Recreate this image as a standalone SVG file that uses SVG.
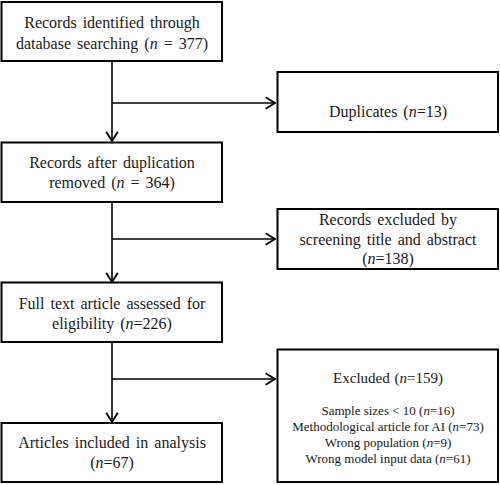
<svg xmlns="http://www.w3.org/2000/svg" width="500" height="485" viewBox="0 0 500 485">
<defs>
<marker id="arr" markerUnits="userSpaceOnUse" markerWidth="14" markerHeight="14" refX="10" refY="6" orient="auto" viewBox="0 0 12 12">
<path d="M2,1 L10,6 L2,11" fill="none" stroke="#000" stroke-width="1.6"/>
</marker>
<style>
.box{fill:#fff;stroke:#000;stroke-width:2}
.t{font-family:"Liberation Serif","Times New Roman",serif;font-size:16px;fill:#1a1a1a;text-anchor:middle;word-spacing:2px}
.s{font-family:"Liberation Serif","Times New Roman",serif;font-size:13px;fill:#1a1a1a;text-anchor:middle}
.c{fill:none;stroke:#000;stroke-width:1.6}
</style>
</defs>
<rect width="500" height="485" fill="#fff"/>
<g id="connectors">
<line class="c" x1="112" y1="61" x2="112" y2="141" marker-end="url(#arr)"/>
<line class="c" x1="112" y1="103" x2="275" y2="103" marker-end="url(#arr)"/>
<line class="c" x1="112" y1="202" x2="112" y2="282" marker-end="url(#arr)"/>
<line class="c" x1="112" y1="239" x2="275" y2="239" marker-end="url(#arr)"/>
<line class="c" x1="112" y1="342" x2="112" y2="422" marker-end="url(#arr)"/>
<line class="c" x1="112" y1="379" x2="275" y2="379" marker-end="url(#arr)"/>
</g>
<g id="n1">
<rect class="box" x="1.5" y="2" width="220.5" height="59"/>
<text class="t" x="112" y="28">Records identified through</text>
<text class="t" x="112" y="49">database searching (<tspan font-style="italic">n</tspan> = 377)</text>
</g>
<g id="n2">
<rect class="box" x="277.5" y="72" width="220.5" height="60"/>
<text class="t" x="388" y="117">Duplicates (<tspan font-style="italic">n</tspan>=13)</text>
</g>
<g id="n3">
<rect class="box" x="1.5" y="142.5" width="220.5" height="59.5"/>
<text class="t" x="112" y="168">Records after duplication</text>
<text class="t" x="112" y="188">removed (<tspan font-style="italic">n</tspan> = 364)</text>
</g>
<g id="n4">
<rect class="box" x="277.5" y="209" width="220.5" height="60"/>
<text class="t" x="388" y="225">Records excluded by</text>
<text class="t" x="388" y="245">screening title and abstract</text>
<text class="t" x="388" y="264">(<tspan font-style="italic">n</tspan>=138)</text>
</g>
<g id="n5">
<rect class="box" x="1.5" y="282.5" width="220.5" height="59.5"/>
<text class="t" x="112" y="309">Full text article assessed for</text>
<text class="t" x="112" y="329">eligibility (<tspan font-style="italic">n</tspan>=226)</text>
</g>
<g id="n6">
<rect class="box" x="277.5" y="349.5" width="220.5" height="132.5"/>
<text class="t" x="388" y="383" style="font-size:15px;word-spacing:1px">Excluded (<tspan font-style="italic">n</tspan>=159)</text>
<text class="s" x="388" y="415">Sample sizes &lt; 10 (<tspan font-style="italic">n</tspan>=16)</text>
<text class="s" x="388" y="431">Methodological article for AI (<tspan font-style="italic">n</tspan>=73)</text>
<text class="s" x="388" y="447">Wrong population (<tspan font-style="italic">n</tspan>=9)</text>
<text class="s" x="388" y="463">Wrong model input data (<tspan font-style="italic">n</tspan>=61)</text>
</g>
<g id="n7">
<rect class="box" x="1.5" y="423" width="220.5" height="59"/>
<text class="t" x="112" y="448">Articles included in analysis</text>
<text class="t" x="112" y="468">(<tspan font-style="italic">n</tspan>=67)</text>
</g>
</svg>
